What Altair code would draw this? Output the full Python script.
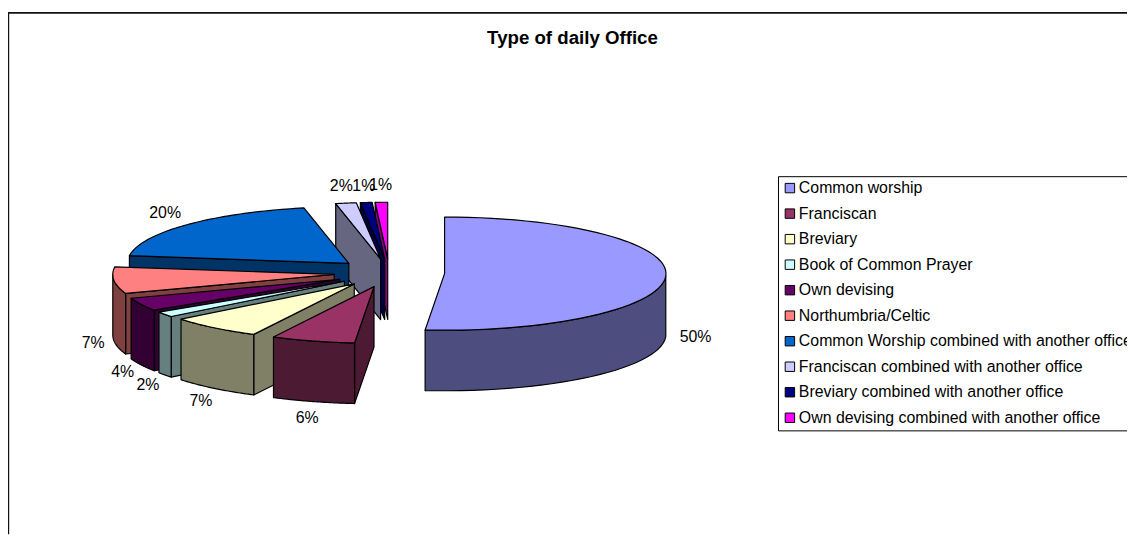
import math
import altair as alt

categories = ["Common worship", "Franciscan", "Breviary", "Book of Common Prayer", "Own devising",
              "Northumbria/Celtic", "Common Worship combined with another office",
              "Franciscan combined with another office", "Breviary combined with another office",
              "Own devising combined with another office"]
shares = [51.4, 6.1, 6.8, 1.5, 3.75, 7.6, 19.6, 1.5, 0.85, 0.9]
labels = ["50%", "6%", "7%", "2%", "4%", "7%", "20%", "2%", "1%", "1%"]
top_colors = ["#9999FF", "#993366", "#FFFFCC", "#CCFFFF", "#660066",
              "#FF8080", "#0066CC", "#CCCCFF", "#000080", "#FF00FF"]
side_colors = ["#4D4D80", "#4D1A33", "#808066", "#668080", "#330033",
               "#804040", "#003366", "#666680", "#000040", "#800080"]

# pie geometry, in chart pixels
CX, CY, RX, RY, DEPTH, EXPLODE = 384.0, 265.0, 223.0, 57.0, 61.0, 0.25
PAD_Y = 17.0


def rim(ax, ay, t):
    return [ax + RX * math.sin(t), ay - RY * math.cos(t)]


def feature(key, pts):
    ring = [list(p) for p in pts] + [list(pts[0])]
    return {"type": "Feature", "properties": {"key": key},
            "geometry": {"type": "Polygon", "coordinates": [ring]}}


total = sum(shares)
slices, start = [], 0.0
for i, s in enumerate(shares):
    end = start + s / total * 2 * math.pi
    slices.append((i, start, end))
    start = end

draw_order = [9, 8, 7, 6, 5, 4, 3, 2, 1, 0]
features, label_rows = [], []
for i in draw_order:
    _, a, b = slices[i]
    m = (a + b) / 2
    ax = CX + EXPLODE * RX * math.sin(m)
    ay = CY - EXPLODE * RY * math.cos(m)
    side = categories[i] + "|side"
    arc = [rim(ax, ay, a + (b - a) * k / 60) for k in range(61)]
    # visible cut faces
    if math.sin(a) < -1e-6:
        p = rim(ax, ay, a)
        features.append(feature(side, [[ax, ay], p, [p[0], p[1] + DEPTH], [ax, ay + DEPTH]]))
    if math.sin(b) > 1e-6:
        p = rim(ax, ay, b)
        features.append(feature(side, [[ax, ay], p, [p[0], p[1] + DEPTH], [ax, ay + DEPTH]]))
    # outer wall, front half of the rim only
    front = [q for q in (a + (b - a) * k / 60 for k in range(61)) if math.cos(q) <= 0]
    if front:
        upper = [rim(ax, ay, q) for q in front]
        lower = [[x, y + DEPTH] for x, y in reversed(upper)]
        features.append(feature(side, upper + lower))
    features.append(feature(categories[i], [[ax, ay]] + arc))
    edge = rim(ax, ay, m)
    wall = DEPTH if math.cos(m) < 0 else 0
    pad_x = 21.0 if (math.sin(m) < 0 and math.cos(m) < 0) else 30.0
    label_rows.append({"label": labels[i],
                       "lon": edge[0] + pad_x * math.sin(m),
                       "lat": edge[1] - PAD_Y * math.cos(m) + wall})

projection = dict(type="identity", scale=1, translate=[0, 0])
font = "Liberation Sans"

pie = alt.Chart(alt.Data(values=features)).mark_geoshape(
    stroke="black", strokeWidth=1.2, strokeJoin="round"
).encode(
    color=alt.Color(
        "properties.key:N",
        scale=alt.Scale(domain=categories + [c + "|side" for c in categories],
                        range=top_colors + side_colors),
        legend=alt.Legend(
            values=categories, title=None, orient="none", legendX=775.5, legendY=167.5,
            symbolType="square", symbolSize=90, symbolStrokeColor="black", symbolStrokeWidth=1,
            labelFont=font, labelFontSize=16, labelColor="black", labelLimit=500, labelOffset=1,
            strokeColor="black", padding=4, rowPadding=9.7, fillColor="white",
        ),
    )
).project(**projection)

texts = alt.Chart(alt.Data(values=label_rows)).mark_text(
    font=font, fontSize=16, color="black", align="center", baseline="middle"
).encode(longitude="lon:Q", latitude="lat:Q", text="label:N").project(**projection)

left = alt.Chart(alt.Data(values=[{"k": 0}])).mark_rule(color="#111111", strokeWidth=1.4).encode(
    x=alt.value(0.5), y=alt.value(2.5), y2=alt.value(528))
top = alt.Chart(alt.Data(values=[{"k": 0}])).mark_rule(color="#111111", strokeWidth=1.6).encode(
    x=alt.value(0), x2=alt.value(1127), y=alt.value(3))

chart = alt.layer(left, top, pie, texts).properties(
    width=1127, height=528, padding=0,
    autosize=alt.AutoSizeParams(type="none"),
    title=alt.TitleParams("Type of daily Office", font=font, fontSize=18.8, fontWeight="bold",
                          color="black", anchor="middle", dx=5, dy=42),
).configure_view(strokeWidth=0)

chart.save("out.html", embed_options={"renderer": "svg", "actions": False})
